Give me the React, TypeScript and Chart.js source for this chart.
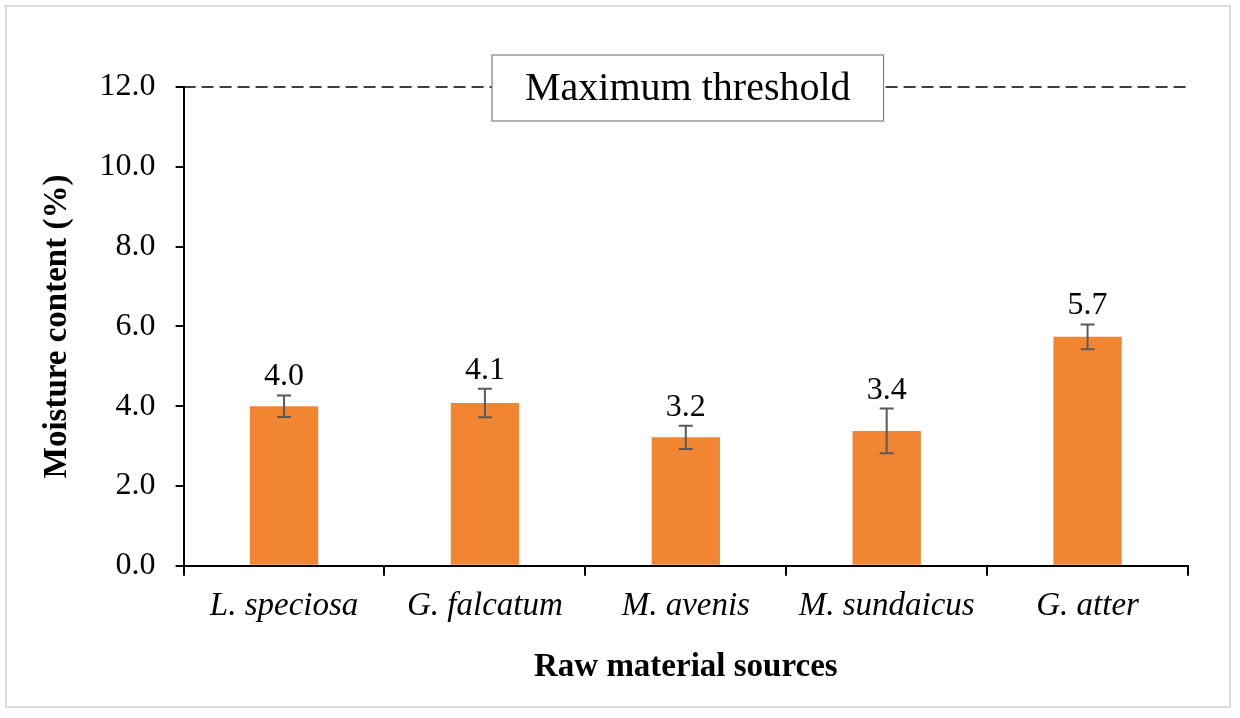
import React, { useEffect, useRef } from "react";
import { Chart, registerables } from "chart.js";

Chart.register(...registerables);

const categories = ["L. speciosa", "G. falcatum", "M. avenis", "M. sundaicus", "G. atter"];
const moisture = [4.0, 4.08, 3.22, 3.38, 5.74];
const errors = [0.27, 0.36, 0.29, 0.56, 0.31];
const valueLabels = ["4.0", "4.1", "3.2", "3.4", "5.7"];
const thresholdValue = 12.0;
const thresholdLabel = "Maximum threshold";
const yTicks = [0, 2, 4, 6, 8, 10, 12];

const SERIF = "'Liberation Serif', 'Times New Roman', serif";

const overlayPlugin = {
  id: "overlay",
  afterDatasetsDraw(chart: any) {
    const ctx = chart.ctx;
    const y = chart.scales.y;
    const area = chart.chartArea;
    ctx.save();
    // threshold dashed line
    const ty = y.getPixelForValue(thresholdValue);
    ctx.strokeStyle = "#000";
    ctx.lineWidth = 1.5;
    ctx.setLineDash([12, 6]);
    ctx.beginPath();
    ctx.moveTo(area.left, ty);
    ctx.lineTo(area.right, ty);
    ctx.stroke();
    ctx.setLineDash([]);
    // threshold box
    ctx.font = `40px ${SERIF}`;
    const tw = ctx.measureText(thresholdLabel).width;
    const cx = (area.left + area.right) / 2 + 2;
    const bw = tw + 66;
    const bh = 66;
    ctx.fillStyle = "#fff";
    ctx.fillRect(cx - bw / 2, ty - 32, bw, bh);
    ctx.strokeStyle = "#7f7f7f";
    ctx.lineWidth = 1.2;
    ctx.strokeRect(cx - bw / 2, ty - 32, bw, bh);
    ctx.fillStyle = "#000";
    ctx.textAlign = "center";
    ctx.textBaseline = "middle";
    ctx.fillText(thresholdLabel, cx, ty + 2);
    // error bars and value labels
    const meta = chart.getDatasetMeta(0);
    meta.data.forEach((bar: any, i: number) => {
      const px = bar.x;
      const top = y.getPixelForValue(moisture[i] + errors[i]);
      const bot = y.getPixelForValue(moisture[i] - errors[i]);
      ctx.strokeStyle = "#595959";
      ctx.lineWidth = 2;
      ctx.beginPath();
      ctx.moveTo(px, top);
      ctx.lineTo(px, bot);
      ctx.moveTo(px - 7, top);
      ctx.lineTo(px + 7, top);
      ctx.moveTo(px - 7, bot);
      ctx.lineTo(px + 7, bot);
      ctx.stroke();
      ctx.fillStyle = "#000";
      ctx.font = `32px ${SERIF}`;
      ctx.textAlign = "center";
      ctx.textBaseline = "alphabetic";
      ctx.fillText(valueLabels[i], px, top - 10);
    });
    ctx.restore();
  },
};

export default function App() {
  const ref = useRef<HTMLCanvasElement>(null);
  useEffect(() => {
    if (!ref.current) return;
    const chart = new Chart(ref.current, {
      type: "bar",
      data: {
        labels: categories,
        datasets: [
          {
            data: moisture,
            backgroundColor: "#F28532",
            borderWidth: 0,
            categoryPercentage: 1,
            barPercentage: 0.34,
          },
        ],
      },
      options: {
        animation: false,
        responsive: false,
        maintainAspectRatio: false,
        layout: { padding: { top: 87, right: 52, left: 38, bottom: 31 } },
        plugins: { legend: { display: false }, tooltip: { enabled: false } },
        scales: {
          x: {
            grid: { display: true, drawOnChartArea: false, drawTicks: true, tickLength: 10, color: "#000", lineWidth: 2, offset: true },
            border: { display: true, color: "#000", width: 2 },
            ticks: { color: "#000", font: { family: SERIF, size: 33, style: "italic" }, padding: 11 },
            title: { display: true, text: "Raw material sources", color: "#000", font: { family: SERIF, size: 33, weight: "bold" }, padding: { top: 10, bottom: 0 } },
          },
          y: {
            min: 0,
            max: 12,
            afterBuildTicks: (s: any) => { s.ticks = yTicks.map((v) => ({ value: v })); },
            grid: { display: true, drawOnChartArea: false, drawTicks: true, tickLength: 8, color: "#000", lineWidth: 2 },
            border: { display: true, color: "#000", width: 2 },
            ticks: { color: "#000", font: { family: SERIF, size: 32 }, padding: 20, callback: (v: any) => Number(v).toFixed(1) },
            title: { display: true, text: "Moisture content (%)", color: "#000", font: { family: SERIF, size: 33, weight: "bold" }, padding: { top: 0, bottom: 2 } },
          },
        },
      },
      plugins: [overlayPlugin],
    });
    return () => chart.destroy();
  }, []);
  return (
    <div style={{ position: "fixed", left: 0, top: 0, width: 1240, height: 718, background: "#fff" }}>
      <div style={{ position: "absolute", left: 5, top: 5, width: 1226, height: 703, border: "2px solid #dcdcdc", boxSizing: "border-box" }} />
      <canvas ref={ref} width={1240} height={718} style={{ position: "absolute", left: 0, top: 0 }} />
    </div>
  );
}
